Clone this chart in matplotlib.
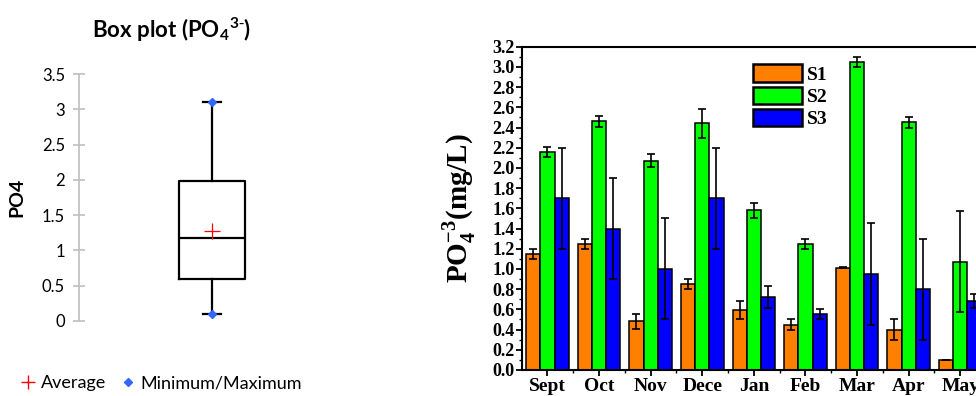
import numpy as np
import matplotlib.pyplot as plt
from matplotlib.lines import Line2D

# Monthly PO4 values for the three stations
months = ["Sept", "Oct", "Nov", "Dece", "Jan", "Feb", "Mar", "Apr", "May"]
s1 = [1.15, 1.25, 0.48, 0.85, 0.59, 0.45, 1.01, 0.40, 0.10]
s1_err = [0.05, 0.05, 0.075, 0.05, 0.09, 0.05, 0.005, 0.10, 0.0]
s2 = [2.16, 2.46, 2.07, 2.44, 1.58, 1.25, 3.05, 2.45, 1.07]
s2_err = [0.05, 0.05, 0.065, 0.14, 0.075, 0.05, 0.05, 0.05, 0.50]
s3 = [1.70, 1.40, 1.00, 1.70, 0.72, 0.55, 0.95, 0.80, 0.68]
s3_err = [0.50, 0.50, 0.50, 0.50, 0.11, 0.05, 0.50, 0.50, 0.07]

# Box plot summary
box_min, box_q1, box_med, box_q3, box_max = 0.10, 0.60, 1.17, 1.98, 3.10
box_mean = 1.28
box_ticks = [0, 0.5, 1, 1.5, 2, 2.5, 3, 3.5]
box_ticklabels = ["0", "0.5", "1", "1.5", "2", "2.5", "3", "3.5"]

plt.rcParams["mathtext.fontset"] = "custom"
plt.rcParams["mathtext.rm"] = "Liberation Serif:bold"
plt.rcParams["mathtext.bf"] = "Liberation Serif:bold"

fig = plt.figure(figsize=(9.76, 3.96), dpi=100)

########################## Left: box plot ##########################
sans = "Lato"
ax1 = fig.add_axes([0.0809, 0.1894, 0.2725, 0.6237])
stats = [dict(med=box_med, q1=box_q1, q3=box_q3, whislo=box_min, whishi=box_max,
              mean=box_mean, fliers=[])]
ax1.bxp(stats, positions=[1], widths=0.25, showmeans=True, capwidths=0.07,
        boxprops=dict(color="black", linewidth=1.6),
        medianprops=dict(color="black", linewidth=1.6),
        whiskerprops=dict(color="black", linewidth=1.6),
        capprops=dict(color="black", linewidth=1.6),
        meanprops=dict(marker="+", markeredgecolor="red", markersize=11, markeredgewidth=0.9))
ax1.plot([1, 1], [box_min, box_max], "D", color="#3366FF", markersize=4, linestyle="none")
ax1.set_xlim(0.5, 1.5)
ax1.set_ylim(0, 3.5)
ax1.set_xticks([])
ax1.set_yticks(box_ticks)
ax1.set_yticklabels(box_ticklabels, family=sans, fontsize=12)
for s in ["top", "right", "bottom"]:
    ax1.spines[s].set_visible(False)
ax1.spines["left"].set_color("#BFBFBF")
ax1.spines["left"].set_linewidth(1.2)
ax1.tick_params(axis="y", direction="inout", length=8, width=1.2, color="#BFBFBF", pad=6)
ax1.set_ylabel("PO4", family=sans, fontweight="bold", fontsize=14, labelpad=12)
fig.text(0.176, 0.925, r"Box plot (PO$_\mathdefault{4}$$^\mathdefault{3\text{-}}$)", family=sans,
         fontweight="bold", fontsize=16, ha="center", va="center")

handles = [Line2D([], [], marker="+", color="red", linestyle="none", markersize=10, markeredgewidth=1),
           Line2D([], [], marker="D", color="#3366FF", linestyle="none", markersize=4.5)]
fig.legend(handles, ["Average", "Minimum/Maximum"], loc="center left", bbox_to_anchor=(0.005, 0.032),
           ncol=2, frameon=False, prop=dict(family=sans, size=13), handlelength=0.8,
           handletextpad=0.3, columnspacing=0.8)

########################## Right: bar chart ##########################
serif = "Liberation Serif"
ax2 = fig.add_axes([0.5345, 0.0657, 0.4758, 0.8164])
x = np.arange(len(months))
w = 0.275
err_kw = dict(elinewidth=1.2, capthick=1.2, capsize=2.8, ecolor="black")
ax2.bar(x - w, s1, w, yerr=s1_err, color="#FF8000", edgecolor="black", linewidth=1.1, label="S1", error_kw=err_kw)
ax2.bar(x, s2, w, yerr=s2_err, color="#00FF00", edgecolor="black", linewidth=1.1, label="S2", error_kw=err_kw)
ax2.bar(x + w, s3, w, yerr=s3_err, color="#0000FF", edgecolor="black", linewidth=1.1, label="S3", error_kw=err_kw)

ax2.set_xlim(-0.5, len(months) - 0.5)
ax2.set_ylim(0, 3.2)
ax2.set_yticks(np.arange(0, 3.21, 0.2))
ax2.set_yticks(np.arange(0.1, 3.2, 0.2), minor=True)
ax2.set_yticklabels(["%.1f" % v for v in np.arange(0, 3.21, 0.2)], family=serif,
                    fontweight="bold", fontsize=13)
ax2.set_xticks(x)
ax2.set_xticks(x[:-1] + 0.5, minor=True)
ax2.set_xticklabels(months, family=serif, fontweight="bold", fontsize=14)
ax2.tick_params(which="major", direction="out", length=4, width=1.3, pad=1)
ax2.tick_params(which="minor", direction="out", length=2.5, width=1.0)
ax2.tick_params(axis="x", which="major", pad=2)
for s in ax2.spines.values():
    s.set_linewidth(1.5)
ax2.set_ylabel(r"PO$_\mathdefault{4}^\mathdefault{-3}$(mg/L)", family=serif, fontweight="bold",
               fontsize=21, labelpad=10)
leg = ax2.legend(loc="upper left", bbox_to_anchor=(0.498, 0.945), frameon=False,
                 prop=dict(family=serif, weight="bold", size=14), handlelength=2.5, handleheight=1.0,
                 labelspacing=0.15, handletextpad=0.3, borderaxespad=0, borderpad=0)
for h in leg.legend_handles:
    h.set_linewidth(1.8)

fig.savefig("out.png", dpi=100)
